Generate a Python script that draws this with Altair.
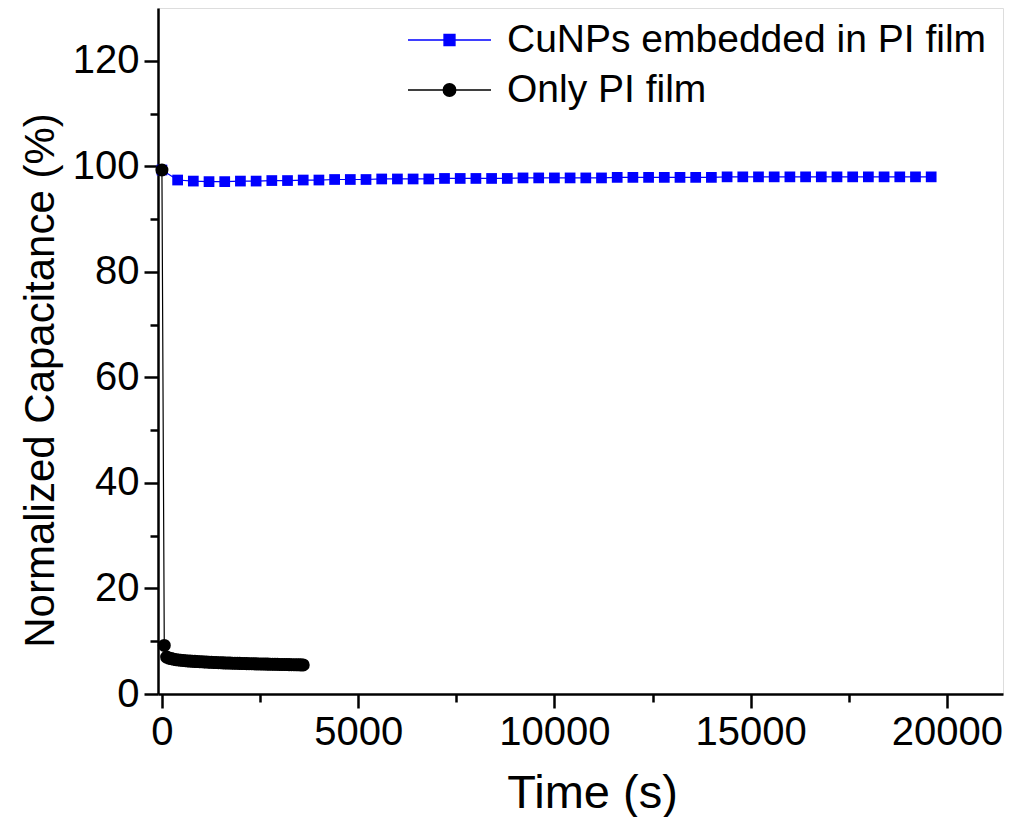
import altair as alt
import pandas as pd

FONT = "Liberation Sans"

series_names = ["CuNPs embedded in PI film", "Only PI film"]
series_colors = ["#0000ff", "#000000"]

cu_time = [0] + list(range(400, 19601, 400))
cu_cap = [99.3, 97.4, 97.2, 97.1, 97.1, 97.2, 97.2, 97.3, 97.3, 97.4,
          97.4, 97.5, 97.5, 97.5, 97.6, 97.6, 97.6, 97.6, 97.7, 97.7,
          97.7, 97.7, 97.7, 97.8, 97.8, 97.8, 97.8, 97.8, 97.8, 97.9,
          97.9, 97.9, 97.9, 97.9, 97.9, 97.9, 98.0, 98.0, 98.0, 98.0,
          98.0, 98.0, 98.0, 98.0, 98.0, 98.0, 98.0, 98.0, 98.0, 98.0]

pi_time = [0, 60] + list(range(120, 3601, 60))
pi_cap = [99.3, 9.2,
          7.0, 6.8, 6.7, 6.6, 6.5, 6.45, 6.4, 6.35, 6.3, 6.27,
          6.24, 6.2, 6.18, 6.15, 6.12, 6.1, 6.08, 6.05, 6.03, 6.0,
          5.98, 5.96, 5.94, 5.92, 5.9, 5.89, 5.87, 5.86, 5.84, 5.83,
          5.81, 5.8, 5.79, 5.77, 5.76, 5.75, 5.74, 5.72, 5.71, 5.7,
          5.69, 5.68, 5.67, 5.66, 5.65, 5.64, 5.63, 5.62, 5.61, 5.6,
          5.59, 5.58, 5.57, 5.56, 5.55, 5.54, 5.53, 5.52, 5.51]

x_major = [0, 5000, 10000, 15000, 20000]
x_minor = [2500, 7500, 12500, 17500]
y_major = [0, 20, 40, 60, 80, 100, 120]
y_minor = [10, 30, 50, 70, 90, 110]

cu_df = pd.DataFrame({"time": cu_time, "cap": cu_cap, "series": series_names[0]})
pi_df = pd.DataFrame({"time": pi_time, "cap": pi_cap, "series": series_names[1]})
legend_df = pd.DataFrame({"series": series_names})

xscale = alt.Scale(domain=[-100, 21430], nice=False, zero=False)
yscale = alt.Scale(domain=[0, 130], nice=False, zero=False)

x_main_axis = alt.Axis(values=x_major, format="d", tickSize=14, tickWidth=2.5, domainWidth=2.5,
                       domainColor="black", tickColor="black", labelFontSize=40, labelFont=FONT,
                       labelColor="black", labelPadding=4, grid=False, title="Time (s)",
                       titleFont=FONT, titleFontSize=47, titleFontWeight="normal", titleColor="black",
                       titleX=434, titleY=99, titleBaseline="middle", titleAlign="center", orient="bottom")
y_main_axis = alt.Axis(values=y_major, format="d", tickSize=14, tickWidth=2.5, domainWidth=2.5,
                       domainColor="black", tickColor="black", labelFontSize=40, labelFont=FONT,
                       labelColor="black", labelPadding=5, grid=False,
                       title="Normalized Capacitance (%)", titleFont=FONT, titleFontSize=42,
                       titleFontWeight="normal", titleColor="black", titleAngle=270,
                       titleX=-118, titleY=372, titleBaseline="middle", titleAlign="center",
                       orient="left")
x_minor_axis = alt.Axis(values=x_minor, tickSize=8, tickWidth=2.5, tickColor="black", labels=False,
                        domain=False, grid=False, title=None, orient="bottom")
y_minor_axis = alt.Axis(values=y_minor, tickSize=8, tickWidth=2.5, tickColor="black", labels=False,
                        domain=False, grid=False, title=None, orient="left")

cu_line = alt.Chart(cu_df).mark_line(color=series_colors[0], strokeWidth=1.2).encode(
    x=alt.X("time:Q", scale=xscale, axis=x_main_axis),
    y=alt.Y("cap:Q", scale=yscale, axis=y_main_axis),
)
cu_pts = alt.Chart(cu_df).mark_point(shape="square", filled=True, opacity=1,
                                     color=series_colors[0], size=115).encode(
    x=alt.X("time:Q", scale=xscale, axis=None),
    y=alt.Y("cap:Q", scale=yscale, axis=None),
)
pi_line = alt.Chart(pi_df).mark_line(color=series_colors[1], strokeWidth=1.2).encode(
    x=alt.X("time:Q", scale=xscale, axis=None),
    y=alt.Y("cap:Q", scale=yscale, axis=None),
)
pi_pts = alt.Chart(pi_df).mark_point(shape="circle", filled=True, opacity=1,
                                     color=series_colors[1], size=170).encode(
    x=alt.X("time:Q", scale=xscale, axis=None),
    y=alt.Y("cap:Q", scale=yscale, axis=None),
)
minor = alt.Chart(cu_df).mark_point(opacity=0).encode(
    x=alt.X("time:Q", scale=xscale, axis=x_minor_axis),
    y=alt.Y("cap:Q", scale=yscale, axis=y_minor_axis),
)

sq_path = "M-1,0H1M-0.13,-0.13H0.13V0.13H-0.13Z"
ci_path = "M-1,0H1M0.15,0A0.15,0.15,0,1,1,-0.15,0A0.15,0.15,0,1,1,0.15,0Z"
legend_common = dict(title=None, orient="none", legendX=249, legendY=10, labelFont=FONT,
                     labelFontSize=39, labelColor="black", labelOffset=15, clipHeight=44,
                     rowPadding=6, symbolOpacity=1, symbolStrokeWidth=1.5, symbolSize=6889,
                     labelLimit=800)
legend_layer = alt.Chart(legend_df).mark_point(filled=True, opacity=0, size=6889).encode(
    fill=alt.Fill("series:N", scale=alt.Scale(domain=series_names, range=series_colors),
                  legend=alt.Legend(**legend_common)),
    stroke=alt.Stroke("series:N", scale=alt.Scale(domain=series_names, range=series_colors),
                      legend=alt.Legend(**legend_common)),
    shape=alt.Shape("series:N", scale=alt.Scale(domain=series_names, range=[sq_path, ci_path]),
                    legend=alt.Legend(**legend_common)),
)

chart = alt.layer(cu_line, cu_pts, pi_line, pi_pts, minor, legend_layer).resolve_axis(
    x="independent", y="independent"
).properties(
    width=845, height=686,
    padding={"left": 158, "top": 8, "right": 7, "bottom": 123},
    autosize=alt.AutoSizeParams(type="none"),
).configure_view(stroke="black", strokeWidth=2.5).configure(background="white")

chart.save("out.html", embed_options={"renderer": "svg", "actions": False})
